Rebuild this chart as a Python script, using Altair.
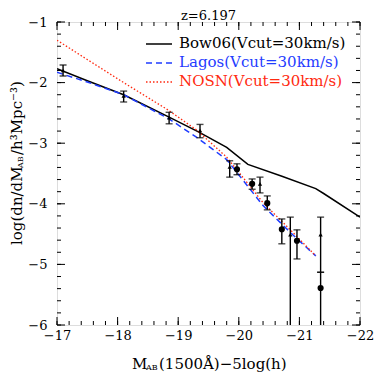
import altair as alt
import pandas as pd

# ---------------- data ----------------
bow_M = [-17.0, -17.5, -18.1, -18.85, -19.35, -19.8, -20.15, -20.7, -21.27, -21.4, -22.0]
bow_v = [-1.77, -1.97, -2.20, -2.57, -2.82, -3.07, -3.35, -3.54, -3.75, -3.83, -4.22]

lag_M = [-17.0, -17.5, -18.1, -18.85, -19.3, -19.8, -20.4, -20.9, -21.27]
lag_v = [-1.83, -1.99, -2.20, -2.60, -2.90, -3.27, -4.03, -4.52, -4.86]

nosn_M = [-17.0, -17.5, -18.1, -18.83, -19.3, -19.8, -20.4, -20.9, -21.27]
nosn_v = [-1.30, -1.62, -2.00, -2.45, -2.78, -3.23, -3.98, -4.48, -4.86]

tri_M = [-17.1, -18.1, -18.85, -19.36, -19.85, -20.35, -20.85, -21.35]
tri_v = [-1.80, -2.22, -2.58, -2.79, -3.39, -3.67, -4.51, -4.51]
tri_lo = [-1.89, -2.32, -2.68, -2.91, -3.56, -3.82, -6.5, -5.13]
tri_hi = [-1.71, -2.14, -2.49, -2.69, -3.29, -3.56, -4.22, -4.22]

circ_M = [-19.97, -20.22, -20.47, -20.71, -20.96, -21.35]
circ_v = [-3.43, -3.67, -3.99, -4.42, -4.61, -5.39]
circ_lo = [-3.52, -3.76, -4.10, -4.66, -4.91, -6.5]
circ_hi = [-3.34, -3.59, -3.87, -4.25, -4.43, -5.13]

legend_labels = ["Bow06(Vcut=30km/s)", "Lagos(Vcut=30km/s)", "NOSN(Vcut=30km/s)"]
legend_line_colors = ["#000000", "#1f3cff", "#ff2a10"]
legend_text_colors = ["#000000", "#1f3cff", "#ff2a10"]

x_major = [-17, -18, -19, -20, -21, -22]
y_major = [-1, -2, -3, -4, -5, -6]
x_minor = [round(-17 - 0.2 * i, 1) for i in range(26)]
y_minor = [round(-1 - 0.2 * i, 1) for i in range(26)]

title_text = "z=6.197"

# ---------------- layout ----------------
W, H = 303, 303
FONT = "DejaVu Serif"

xs = alt.Scale(domain=[-22, -17], reverse=True, nice=False, zero=False)
ys = alt.Scale(domain=[-6, -1], nice=False, zero=False)

xaxis = alt.Axis(values=x_major, format="d", ticks=False, tickSize=0, domain=False, grid=False,
                 labelFont=FONT, labelFontSize=13, labelColor="black", labelPadding=4,
                 labelFlush=False, labelOverlap=False, title=None)
yaxis = alt.Axis(values=y_major, format="d", ticks=False, tickSize=0, domain=False, grid=False,
                 labelFont=FONT, labelFontSize=13, labelColor="black", labelPadding=10,
                 labelFlush=False, labelOverlap=False, title=None)


def line_layer(M, v, color, dash, width):
    df = pd.DataFrame({"M": M, "v": v})
    kw = dict(color=color, strokeWidth=width, clip=True)
    if dash:
        kw["strokeDash"] = dash
    return alt.Chart(df).mark_line(**kw).encode(
        x=alt.X("M:Q", scale=xs, axis=xaxis),
        y=alt.Y("v:Q", scale=ys, axis=yaxis),
    )


bow = line_layer(bow_M, bow_v, "#000000", None, 1.5)
lag = line_layer(lag_M, lag_v, "#1f3cff", [6, 4], 1.5)
nosn = line_layer(nosn_M, nosn_v, "#ff2a10", [1.5, 2], 1.3)

tri_df = pd.DataFrame({"M": tri_M, "v": tri_v, "lo": tri_lo, "hi": tri_hi})
circ_df = pd.DataFrame({"M": circ_M, "v": circ_v, "lo": circ_lo, "hi": circ_hi})


def err_layers(df):
    bars = alt.Chart(df).mark_rule(color="black", strokeWidth=1.4, clip=True).encode(
        x=alt.X("M:Q", scale=xs), y=alt.Y("lo:Q", scale=ys), y2="hi:Q")
    cap_lo = alt.Chart(df).mark_tick(color="black", orient="horizontal", size=7, thickness=1.4, clip=True).encode(
        x=alt.X("M:Q", scale=xs), y=alt.Y("lo:Q", scale=ys))
    cap_hi = alt.Chart(df).mark_tick(color="black", orient="horizontal", size=7, thickness=1.4, clip=True).encode(
        x=alt.X("M:Q", scale=xs), y=alt.Y("hi:Q", scale=ys))
    return [bars, cap_lo, cap_hi]


tri_pts = alt.Chart(tri_df).mark_point(shape="triangle-up", filled=True, color="black", size=18, opacity=1).encode(
    x=alt.X("M:Q", scale=xs), y=alt.Y("v:Q", scale=ys))
circ_pts = alt.Chart(circ_df).mark_point(shape="circle", filled=True, color="black", size=38, opacity=1).encode(
    x=alt.X("M:Q", scale=xs), y=alt.Y("v:Q", scale=ys))

# ticks (inward, all four sides)
def xticks(vals, length):
    df = pd.DataFrame({"t": vals})
    b = alt.Chart(df).mark_rule(color="black", strokeWidth=1).encode(
        x=alt.X("t:Q", scale=xs), y=alt.value(H), y2=alt.value(H - length))
    t = alt.Chart(df).mark_rule(color="black", strokeWidth=1).encode(
        x=alt.X("t:Q", scale=xs), y=alt.value(0), y2=alt.value(length))
    return [b, t]


def yticks(vals, length):
    df = pd.DataFrame({"t": vals})
    l = alt.Chart(df).mark_rule(color="black", strokeWidth=1).encode(
        y=alt.Y("t:Q", scale=ys), x=alt.value(0), x2=alt.value(length))
    r = alt.Chart(df).mark_rule(color="black", strokeWidth=1).encode(
        y=alt.Y("t:Q", scale=ys), x=alt.value(W), x2=alt.value(W - length))
    return [l, r]


tick_layers = xticks(x_minor, 4) + xticks(x_major, 8) + yticks(y_minor, 4) + yticks(y_major, 8)

# legend
legend_layers = []
dashes = [None, [6, 4], [1.5, 2]]
for i, (lab, lc, tc) in enumerate(zip(legend_labels, legend_line_colors, legend_text_colors)):
    ldf = pd.DataFrame({"label": [lab]})
    yy = 22 + 19 * i
    kw = dict(color=lc, strokeWidth=1.5)
    if dashes[i]:
        kw["strokeDash"] = dashes[i]
    legend_layers.append(alt.Chart(ldf).mark_rule(**kw).encode(
        x=alt.value(89), x2=alt.value(115), y=alt.value(yy)))
    legend_layers.append(alt.Chart(ldf).mark_text(
        align="left", baseline="middle", font=FONT, fontSize=15, color=tc).encode(
        x=alt.value(122), y=alt.value(yy - 1), text="label:N"))

# titles as text
tdf = pd.DataFrame({"s": [title_text]})
title_layer = alt.Chart(tdf).mark_text(font=FONT, fontSize=13, color="black", baseline="alphabetic", align="center").encode(
    x=alt.value(W / 2), y=alt.value(-2), text="s:N")

xt_df = pd.DataFrame({"s": ["M", "AB", "(1500Å)−5log(h)"],
                      "px": [75, 89, 102], "py": [342, 346, 342], "fs": [15, 8, 15]})
xtitle = []
for _, r in xt_df.iterrows():
    xtitle.append(alt.Chart(pd.DataFrame({"s": [r["s"]]})).mark_text(
        font=FONT, fontSize=int(r["fs"]), color="black", align="left", baseline="middle").encode(
        x=alt.value(float(r["px"])), y=alt.value(float(r["py"])), text="s:N"))

yt_df = pd.DataFrame({"s": ["log(dn/dM", "AB", "/h³Mpc⁻³)"],
                      "px": [-40, -36, -40], "py": [223, 146, 133], "fs": [15, 8, 15]})
ytitle = []
for _, r in yt_df.iterrows():
    ytitle.append(alt.Chart(pd.DataFrame({"s": [r["s"]]})).mark_text(
        font=FONT, fontSize=int(r["fs"]), color="black", align="left", baseline="middle", angle=270).encode(
        x=alt.value(float(r["px"])), y=alt.value(float(r["py"])), text="s:N"))

layers = [bow, lag, nosn] + err_layers(tri_df) + err_layers(circ_df) + [tri_pts, circ_pts] \
    + tick_layers + legend_layers + [title_layer] + xtitle + ytitle

chart = alt.layer(*layers).properties(
    width=W, height=H,
    autosize=alt.AutoSizeParams(type="none"),
    padding={"left": 49, "top": 14, "right": 14, "bottom": 48},
).configure_view(stroke="black", strokeWidth=1).configure(background="white")

chart.save("out.html", embed_options={"renderer": "svg", "actions": False})
